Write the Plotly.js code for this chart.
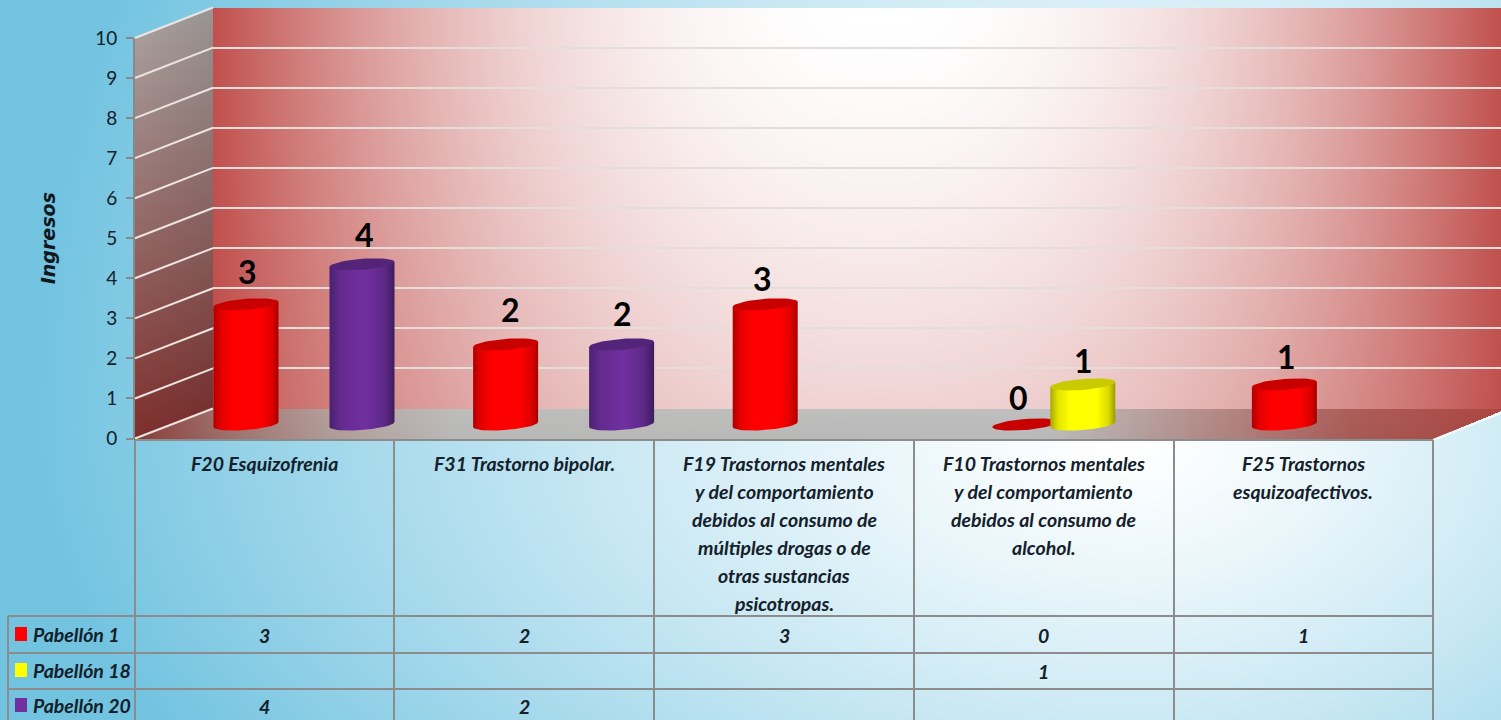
<!DOCTYPE html>
<html><head><meta charset="utf-8">
<script src="https://cdn.plot.ly/plotly-3.0.1.min.js"></script>
<style>html,body{margin:0;padding:0;background:#fff;overflow:hidden}#chart{width:1501px;height:720px}</style>
</head><body><div id="chart"></div>
<script>
// ---------- data ----------
const categories = [
  "F20 Esquizofrenia",
  "F31 Trastorno bipolar.",
  "F19 Trastornos mentales<br>y del comportamiento<br>debidos al consumo de<br>múltiples drogas o de<br>otras sustancias<br>psicotropas.",
  "F10 Trastornos mentales<br>y del comportamiento<br>debidos al consumo de<br>alcohol.",
  "F25 Trastornos<br>esquizoafectivos."
];
const pabellon1  = [3, 2, 3, 0, 1];
const pabellon18 = [null, null, null, 1, null];
const pabellon20 = [4, 2, null, null, null];
const seriesNames = ["Pabellón 1", "Pabellón 18", "Pabellón 20"];
const yTicks = [0, 1, 2, 3, 4, 5, 6, 7, 8, 9, 10];

// ---------- geometry of the 3-D look (pixels) ----------
const W = 1501, H = 720, COL = 259.6;
const fx = p => p / W, fy = p => 1 - p / H;
const frontX = 135, tableR = 1433, backX = 213;
const front0 = 438.5, front10 = 38, back0 = 408.5, back10 = 7.5, bar0 = 424.5, bar10 = 24;
const UNIT = (bar0 - bar10) / 10;
const colLines = [135, 394, 654, 914, 1174, 1433];
const rowLines = [616, 653, 689];
const rowText = [635, 671, 706];
const FONT = "Lato, Carlito, sans-serif", INK = "#14202a";

function lerpStops(stops, v) {
  if (v <= stops[0][0]) return stops[0].slice(1);
  for (let i = 1; i < stops.length; i++) if (v <= stops[i][0]) {
    const a = stops[i - 1], b = stops[i], t = (v - a[0]) / (b[0] - a[0]);
    return [a[1] + (b[1] - a[1]) * t, a[2] + (b[2] - a[2]) * t, a[3] + (b[3] - a[3]) * t];
  }
  return stops[stops.length - 1].slice(1);
}
const floorStops = [[135,140,63,59],[220,160,112,107],[330,180,160,156],[450,189,189,187],[1050,191,191,191],[1200,181,143,140],[1350,172,94,89],[1501,172,70,66]];

function paintBackground() {
  const c = document.createElement("canvas"); c.width = W; c.height = H;
  const g = c.getContext("2d"), im = g.createImageData(W, H), d = im.data;
  const slope = (front0 - back0) / (backX - frontX);
  for (let y = 0; y < H; y++) for (let x = 0; x < W; x++) {
    const pdx = (x - 1130) / (x < 1130 ? 1130 : 900), pdy = (y - 430) / (y > 430 ? 640 : 1200);
    const pt = Math.min(0.97, Math.pow(Math.sqrt(pdx * pdx + pdy * pdy), 1.3));
    let col = [255 - 146 * pt, 255 - 62 * pt, 255 - 32 * pt];
    if (x >= backX && y >= back10 && y <= back0) {
      const w = x < 880 ? 667 : 621;
      const tx = Math.min(1, Math.pow(Math.abs(x - 880) / w, 2.2));
      const ty = 0.25 * Math.pow(Math.max(0, y - 7) / 400, 1.5);
      const t = 1 - (1 - tx) * (1 - ty);
      col = [255 + (192 - 255) * t, 255 + (80 - 255) * t, 255 + (77 - 255) * t];
    } else if (x >= frontX && x < backX && y >= front10 - (x - frontX) * slope && y <= front0 - (x - frontX) * slope) {
      const t = (y - 30) / 410, k = 1 - 0.1 * (x - frontX) / 78;
      col = [(168 + (126 - 168) * t) * k, (159 + (46 - 159) * t) * k, (157 + (44 - 157) * t) * k];
    } else if (y > back0 && y <= front0 + 1 && x >= backX - (y - back0) / slope && x <= tableR + (front0 - y) * (68 / 28)) {
      col = lerpStops(floorStops, x);
      const k = 1 - 0.03 * (y - back0) / 30; col = col.map(v => v * k);
    }
    const i = (y * W + x) * 4;
    d[i] = col[0]; d[i + 1] = col[1]; d[i + 2] = col[2]; d[i + 3] = 255;
  }
  g.putImageData(im, 0, 0);
  return c.toDataURL("image/png");
}

// ---------- series / marks ----------
const series = [
  {name: seriesNames[0], values: pabellon1, slot: 33, key: "#ff0000", cap: "#c80000",
   grad: [[0,"#b00000"],[0.12,"#e40000"],[0.3,"#ff0000"],[0.72,"#ff0000"],[0.9,"#dc0000"],[1,"#a80000"]]},
  {name: seriesNames[1], values: pabellon18, slot: 91, key: "#ffff00", cap: "#caca00",
   grad: [[0,"#a8a800"],[0.12,"#e4e400"],[0.3,"#ffff00"],[0.72,"#ffff00"],[0.9,"#d8d800"],[1,"#9c9c00"]]},
  {name: seriesNames[2], values: pabellon20, slot: 149, key: "#7030a0", cap: "#54247a",
   grad: [[0,"#4a2270"],[0.18,"#652b90"],[0.55,"#7030a0"],[0.85,"#5c2886"],[1,"#3e1c5c"]]}
];
const A = 32.5, T = 2.5, B = 5.5;
const ex = (xc, t) => xc + A * Math.cos(t) / COL;
const ey = (v, t) => v + (T * Math.cos(t) + B * Math.sin(t)) / UNIT;
const ticksRange = (a, b, n) => Array.from({length: n + 1}, (_, i) => a + (b - a) * i / n);

const traces = [];
traces.push({type: "scatter", mode: "none", x: [0, 5], y: [0, 10], xaxis: "x", yaxis: "y", showlegend: false, hoverinfo: "skip"});
traces.push({type: "scatter", mode: "none", x: [0, 1], y: [0, 10], xaxis: "x2", yaxis: "y2", showlegend: false, hoverinfo: "skip"});

series.forEach(s => {
  const xs = [], ys = [];
  s.values.forEach((v, i) => { if (v !== null) { xs.push(i + s.slot / COL); ys.push(v); } });
  traces.push({type: "bar", name: s.name, x: xs, y: ys, width: 56 / COL, xaxis: "x2", yaxis: "y3",
    marker: {color: s.key, line: {width: 0}}, showlegend: false, hovertemplate: s.name + ": %{y}<extra></extra>"});
});
const annotations = [];
const labelNudge = {"0-0": [1, 1], "0-1": [5, 3], "0-2": [-3, -6], "0-3": [-6, -5], "0-4": [2, -4], "1-3": [1, -8], "2-0": [2, -2], "2-1": [1, -1]};
series.forEach((s, si) => s.values.forEach((v, i) => {
  if (v === null) return;
  const xc = i + s.slot / COL;
  if (v > 0) {
    const px = [], py = [];
    ticksRange(Math.PI, 0, 1).forEach(t => { px.push(ex(xc, t)); py.push(ey(v, t)); });
    ticksRange(0, -Math.PI, 40).forEach(t => { px.push(ex(xc, t)); py.push(ey(0, t)); });
    traces.push({type: "scatter", mode: "lines", x: px, y: py, fill: "toself", line: {width: 0, color: s.key},
      fillcolor: s.key, fillgradient: {type: "horizontal", colorscale: s.grad},
      xaxis: "x2", yaxis: "y3", showlegend: false, hoverinfo: "skip"});
  }
  const cx = [], cy = [];
  ticksRange(0, 2 * Math.PI, 48).forEach(t => { cx.push(ex(xc, t)); cy.push(ey(v, t)); });
  traces.push({type: "scatter", mode: "lines", x: cx, y: cy, fill: "toself", line: {width: 0, color: s.cap},
    fillcolor: s.cap, xaxis: "x2", yaxis: "y3", showlegend: false, hoverinfo: "skip"});
  const nudge = labelNudge[si + "-" + i] || [0, 0];
  annotations.push({xref: "x2", yref: "y3", x: xc, y: v, yshift: 32 + nudge[1], xshift: nudge[0],
    text: "<b>" + v + "</b>", showarrow: false, font: {family: FONT, size: 32, color: "#000"}, xanchor: "center", yanchor: "middle"});
}));

// ---------- shapes: side wall gridlines and table ----------
const shapes = [];
const frontY = v => front0 + (front10 - front0) * v / 10;
const backY = v => back0 + (back10 - back0) * v / 10;
yTicks.forEach(v => shapes.push({type: "line", xref: "paper", yref: "paper",
  x0: fx(frontX), y0: fy(frontY(v)), x1: fx(backX), y1: fy(backY(v)), line: {color: "#ece4e0", width: 2}, layer: "below"}));
shapes.push({type: "line", xref: "paper", yref: "paper", x0: fx(tableR), y0: fy(440), x1: 1, y1: fy(413), line: {color: "#f4fbfd", width: 2}, layer: "below"});
const tableLine = "#8c8c8c";
colLines.forEach(x => shapes.push({type: "line", xref: "paper", yref: "paper", x0: fx(x), x1: fx(x), y0: fy(440), y1: 0, line: {color: tableLine, width: 2}}));
shapes.push({type: "line", xref: "paper", yref: "paper", x0: fx(135), x1: fx(1433), y0: fy(440), y1: fy(440), line: {color: tableLine, width: 2}});
rowLines.forEach(y => shapes.push({type: "line", xref: "paper", yref: "paper", x0: fx(8), x1: fx(1433), y0: fy(y), y1: fy(y), line: {color: tableLine, width: 2}}));
shapes.push({type: "line", xref: "paper", yref: "paper", x0: fx(8), x1: fx(8), y0: fy(616), y1: 0, line: {color: tableLine, width: 2}});

// ---------- table text ----------
const tableFont = {family: FONT, size: 19.5, color: INK};
categories.forEach((c, i) => c.split("<br>").forEach((line, k) => annotations.push({
  xref: "x", yref: "paper", x: i + 0.5, y: fy(463 + k * 28), text: "<b><i>" + line + "</i></b>", showarrow: false, font: tableFont, xanchor: "center", yanchor: "middle"
})));
series.forEach((s, si) => {
  shapes.push({type: "rect", xref: "paper", yref: "paper", x0: fx(15), x1: fx(27), y0: fy(rowText[si] - 8), y1: fy(rowText[si] + 6), fillcolor: s.key, line: {width: 0}});
  annotations.push({xref: "paper", yref: "paper", x: fx(31), y: fy(rowText[si] - 1), text: "<b><i>" + s.name + "</i></b>", showarrow: false, font: tableFont, xanchor: "left", yanchor: "middle"});
  s.values.forEach((v, i) => { if (v !== null) annotations.push({xref: "x", yref: "paper", x: i + 0.5, y: fy(rowText[si]), text: "<b><i>" + v + "</i></b>", showarrow: false, font: tableFont, xanchor: "center", yanchor: "middle"}); });
});

const layout = {
  width: W, height: H, margin: {l: 0, r: 0, t: 0, b: 0},
  paper_bgcolor: "rgba(0,0,0,0)", plot_bgcolor: "rgba(0,0,0,0)",
  barmode: "overlay", showlegend: false, hovermode: "closest",
  font: {family: FONT, color: INK},
  images: [{source: paintBackground(), xref: "paper", yref: "paper", x: 0, y: 1, sizex: 1, sizey: 1,
    xanchor: "left", yanchor: "top", sizing: "stretch", layer: "below"}],
  xaxis: {domain: [fx(frontX), fx(tableR)], range: [0, 5], anchor: "y", visible: false, fixedrange: true},
  yaxis: {domain: [fy(front0), fy(front10)], range: [0, 10], anchor: "x", tickvals: yTicks, ticks: "outside", ticklen: 7, tickwidth: 2,
    tickcolor: "#87898c", showline: true, linecolor: "#87898c", linewidth: 2, showgrid: false, zeroline: false, fixedrange: true,
    tickfont: {family: FONT, size: 19, color: INK}, ticklabelstandoff: 5,
    title: {text: "<b><i>Ingresos</i></b>", standoff: 35, font: {family: "DejaVu Sans, Verdana, sans-serif", size: 19, color: "#10181e"}}},
  xaxis2: {domain: [fx(backX), 1], range: [0, (W - backX) / COL], anchor: "y2", visible: false, fixedrange: true},
  yaxis2: {domain: [fy(back0), fy(back10)], range: [0, 10], anchor: "x2", tickvals: yTicks, showticklabels: false, ticks: "",
    showgrid: true, gridcolor: "#e4dedb", gridwidth: 2, zeroline: false, showline: false, fixedrange: true},
  yaxis3: {domain: [fy(bar0 + UNIT), fy(bar10)], range: [-1, 10], anchor: "x2", visible: false, fixedrange: true},
  shapes, annotations
};
Plotly.newPlot("chart", traces, layout, {displayModeBar: false, responsive: false});
</script></body></html>
